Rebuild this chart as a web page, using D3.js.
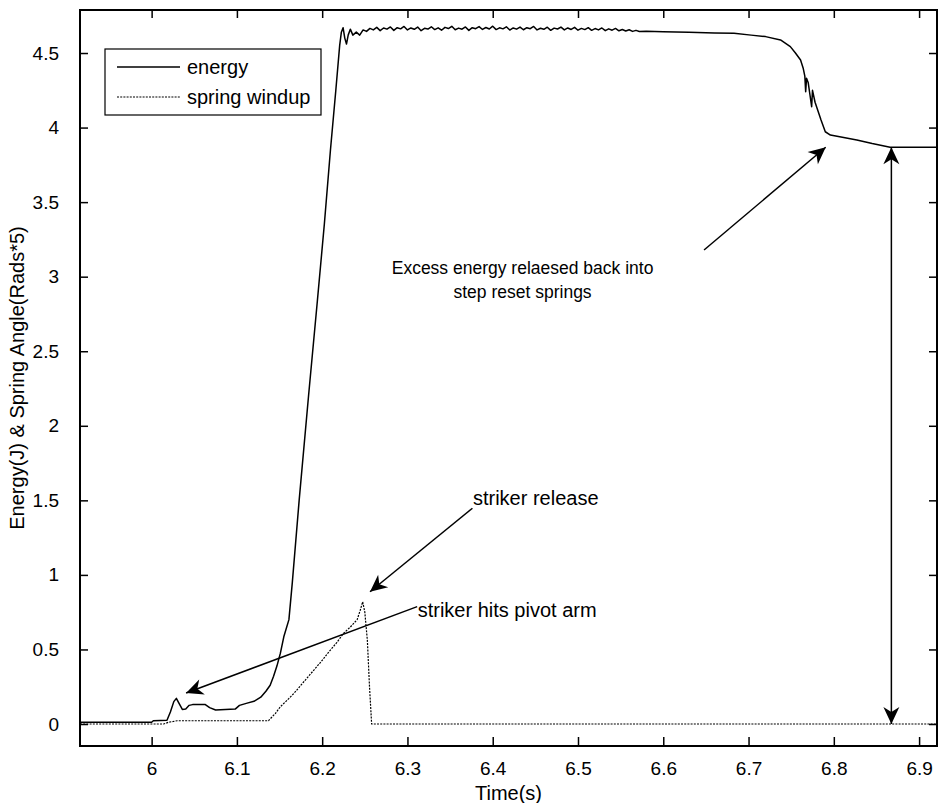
<!DOCTYPE html>
<html>
<head>
<meta charset="utf-8">
<script src="https://cdn.jsdelivr.net/npm/d3@7"></script>
<style>
  html, body { margin: 0; padding: 0; background: #fff; }
  svg text { font-family: "Liberation Sans", Arial, sans-serif; fill: #000; }
</style>
</head>
<body>
<svg id="chart" width="938" height="803"></svg>
<script>
// ---------- data ----------
const xTicks = [6, 6.1, 6.2, 6.3, 6.4, 6.5, 6.6, 6.7, 6.8, 6.9];
const xTickLabels = ["6", "6.1", "6.2", "6.3", "6.4", "6.5", "6.6", "6.7", "6.8", "6.9"];
const yTicks = [0, 0.5, 1, 1.5, 2, 2.5, 3, 3.5, 4, 4.5];
const yTickLabels = ["0", "0.5", "1", "1.5", "2", "2.5", "3", "3.5", "4", "4.5"];
const seriesNames = ["energy", "spring windup"];

const energyPoints = [
  [5.916, 0.012], [6.000, 0.012], [6.002, 0.022], [6.018, 0.025], [6.022, 0.08],
  [6.026, 0.15], [6.029, 0.172], [6.032, 0.14], [6.036, 0.098], [6.040, 0.10],
  [6.044, 0.125], [6.048, 0.13], [6.063, 0.13], [6.068, 0.11], [6.075, 0.094],
  [6.098, 0.10], [6.103, 0.125], [6.112, 0.14], [6.120, 0.152], [6.128, 0.18],
  [6.134, 0.22], [6.139, 0.26], [6.143, 0.32], [6.147, 0.39], [6.151, 0.475],
  [6.155, 0.585], [6.161, 0.70], [6.165, 0.95], [6.173, 1.50], [6.184, 2.20],
  [6.1944, 2.84], [6.2025, 3.35], [6.2097, 3.85], [6.2160, 4.25], [6.2205, 4.55],
  [6.2225, 4.64], [6.2245, 4.67], [6.2265, 4.60], [6.2285, 4.56], [6.2305, 4.62],
  [6.2330, 4.66], [6.2360, 4.62], [6.2400, 4.64], [6.2440, 4.62], [6.2480, 4.655],
  [6.2520, 4.645], [6.2560, 4.665],
  [6.260, 4.655], [6.264, 4.672], [6.268, 4.650], [6.272, 4.668], [6.276, 4.660],
  [6.280, 4.675], [6.284, 4.652], [6.288, 4.670], [6.292, 4.662], [6.296, 4.678],
  [6.300, 4.655], [6.304, 4.668], [6.308, 4.659], [6.312, 4.674], [6.316, 4.650],
  [6.320, 4.666], [6.324, 4.661], [6.328, 4.676], [6.332, 4.657], [6.336, 4.669],
  [6.340, 4.653], [6.344, 4.672], [6.348, 4.664], [6.352, 4.679], [6.356, 4.656],
  [6.360, 4.667], [6.364, 4.660], [6.368, 4.675], [6.372, 4.652], [6.376, 4.670],
  [6.380, 4.663], [6.384, 4.677], [6.388, 4.658], [6.392, 4.671], [6.396, 4.661],
  [6.400, 4.680], [6.404, 4.657], [6.408, 4.669], [6.412, 4.662], [6.416, 4.676],
  [6.420, 4.654], [6.424, 4.668], [6.428, 4.660], [6.432, 4.674], [6.436, 4.656],
  [6.440, 4.670], [6.444, 4.663], [6.448, 4.678], [6.452, 4.655], [6.456, 4.666],
  [6.460, 4.659], [6.464, 4.673], [6.468, 4.652], [6.472, 4.667], [6.476, 4.661],
  [6.480, 4.674], [6.484, 4.655], [6.488, 4.668], [6.492, 4.658], [6.496, 4.672],
  [6.500, 4.653], [6.504, 4.665], [6.508, 4.657], [6.512, 4.670], [6.516, 4.652],
  [6.520, 4.664], [6.524, 4.655], [6.528, 4.668], [6.532, 4.650], [6.536, 4.662],
  [6.540, 4.653], [6.544, 4.665], [6.548, 4.649], [6.552, 4.658], [6.556, 4.648],
  [6.560, 4.656], [6.564, 4.645], [6.568, 4.652], [6.572, 4.644], [6.580, 4.646],
  [6.600, 4.642], [6.630, 4.639], [6.660, 4.635], [6.683, 4.632], [6.703, 4.620],
  [6.720, 4.610], [6.7375, 4.588], [6.749, 4.543], [6.755, 4.50], [6.761, 4.453],
  [6.764, 4.40], [6.766, 4.345], [6.767, 4.241], [6.768, 4.33], [6.770, 4.30],
  [6.772, 4.22], [6.774, 4.14], [6.775, 4.25], [6.778, 4.17], [6.785, 4.051],
  [6.790, 3.972], [6.796, 3.950], [6.810, 3.935], [6.827, 3.917], [6.845, 3.893],
  [6.866, 3.868], [6.921, 3.868]
];

const springPoints = [
  [5.916, 0.0], [6.014, 0.0], [6.020, 0.012], [6.030, 0.022], [6.137, 0.022],
  [6.145, 0.07], [6.151, 0.116], [6.159, 0.16], [6.167, 0.206], [6.178, 0.28],
  [6.190, 0.36], [6.199, 0.42], [6.208, 0.485], [6.217, 0.545], [6.225, 0.608],
  [6.233, 0.65], [6.241, 0.70], [6.2445, 0.76], [6.2475, 0.82], [6.250, 0.75],
  [6.253, 0.56], [6.2555, 0.25], [6.258, 0.0], [6.921, 0.0]
];

// annotations: [tailT, tailV, tipT, tipV]
const arrowStrikerHits = [6.3114, 0.787, 6.0404, 0.208];
const arrowStrikerRelease = [6.3762, 1.447, 6.2561, 0.887];
const arrowExcess = [6.6478, 3.179, 6.7905, 3.868];
const doubleArrow = [6.8675, 3.868, 6.8675, 0.0];
const labelStrikerHits = ["striker hits pivot arm", 6.312, 0.765];
const labelStrikerRelease = ["striker release", 6.3768, 1.516];
const labelExcess = [["Excess energy relaesed back into", "step reset springs"], 6.435, 3.058];

// ---------- layout ----------
const W = 938, H = 803;
const plot = { left: 80, right: 937, top: 10, bottom: 746 };
const svg = d3.select("#chart");

const x = d3.scaleLinear().domain([5.916, 6.921]).range([plot.left, plot.right]);
const y = d3.scaleLinear().domain([-0.1475, 4.7885]).range([plot.bottom, plot.top]);

svg.append("rect").attr("width", W).attr("height", H).attr("fill", "#fff");

const defs = svg.append("defs");
defs.append("clipPath").attr("id", "clip")
  .append("rect").attr("x", plot.left).attr("y", plot.top)
  .attr("width", plot.right - plot.left).attr("height", plot.bottom - plot.top);

// lines
const line = d3.line().x(d => x(d[0])).y(d => y(d[1]));
const g = svg.append("g").attr("clip-path", "url(#clip)");
g.append("path").datum(springPoints).attr("d", line)
  .attr("fill", "none").attr("stroke", "#000").attr("stroke-width", 1.2)
  .attr("stroke-dasharray", "2,1.2");
g.append("path").datum(energyPoints).attr("d", line)
  .attr("fill", "none").attr("stroke", "#000").attr("stroke-width", 1.5)
  .attr("stroke-linejoin", "round");

// axes (ticks inside, mirrored)
const fontTick = 19;
function styleAxis(sel) {
  sel.select(".domain").remove();
  sel.selectAll(".tick line").attr("stroke", "#000").attr("stroke-width", 1.5);
  sel.selectAll(".tick text").attr("font-size", fontTick)
    .attr("font-family", '"Liberation Sans", Arial, sans-serif');
}
const xAxis = d3.axisBottom(x).tickValues(xTicks)
  .tickFormat((d, i) => xTickLabels[i]).tickSizeInner(-9).tickSizeOuter(0).tickPadding(16);
svg.append("g").attr("transform", `translate(0,${plot.bottom})`).call(xAxis).call(styleAxis);
const xAxisTop = d3.axisTop(x).tickValues(xTicks).tickFormat("").tickSizeInner(-8).tickSizeOuter(0);
svg.append("g").attr("transform", `translate(0,${plot.top})`).call(xAxisTop).call(styleAxis);

const yAxis = d3.axisLeft(y).tickValues(yTicks)
  .tickFormat((d, i) => yTickLabels[i]).tickSizeInner(-8).tickSizeOuter(0).tickPadding(21);
svg.append("g").attr("transform", `translate(${plot.left},0)`).call(yAxis).call(styleAxis);
const yAxisRight = d3.axisRight(y).tickValues(yTicks).tickFormat("").tickSizeInner(-8).tickSizeOuter(0);
svg.append("g").attr("transform", `translate(${plot.right},0)`).call(yAxisRight).call(styleAxis);

// frame
svg.append("rect").attr("x", plot.left).attr("y", plot.top)
  .attr("width", plot.right - plot.left).attr("height", plot.bottom - plot.top)
  .attr("fill", "none").attr("stroke", "#000").attr("stroke-width", 2);

// axis labels
svg.append("text").attr("x", (plot.left + plot.right) / 2).attr("y", 800)
  .attr("text-anchor", "middle").attr("font-size", 20).text("Time(s)");
svg.append("text").attr("transform", `translate(24,${(plot.top + plot.bottom) / 2}) rotate(-90)`)
  .attr("text-anchor", "middle").attr("font-size", 20).text("Energy(J) & Spring Angle(Rads*5)");

// legend
const lg = svg.append("g");
lg.append("rect").attr("x", 105).attr("y", 49).attr("width", 216).attr("height", 66)
  .attr("fill", "#fff").attr("stroke", "#000").attr("stroke-width", 1.2);
seriesNames.forEach((name, i) => {
  const yy = 67 + i * 30;
  lg.append("line").attr("x1", 117).attr("x2", 180).attr("y1", yy).attr("y2", yy)
    .attr("stroke", "#000").attr("stroke-width", i === 0 ? 1.5 : 1.2)
    .attr("stroke-dasharray", i === 0 ? null : "2,1.2");
  lg.append("text").attr("x", 187).attr("y", yy + 7).attr("font-size", 20).text(name);
});

// arrows
function headPath(tx, ty, angle) {
  const L = 17, Wd = 8, N = 5;
  const pts = [[0, 0], [-L, -Wd], [-L + N, 0], [-L, Wd]];
  const c = Math.cos(angle), s = Math.sin(angle);
  return "M" + pts.map(p => [tx + p[0] * c - p[1] * s, ty + p[0] * s + p[1] * c].join(",")).join("L") + "Z";
}
function arrow(a, both) {
  const x1 = x(a[0]), y1 = y(a[1]), x2 = x(a[2]), y2 = y(a[3]);
  svg.append("line").attr("x1", x1).attr("y1", y1).attr("x2", x2).attr("y2", y2)
    .attr("stroke", "#000").attr("stroke-width", 1.5);
  const ang = Math.atan2(y2 - y1, x2 - x1);
  svg.append("path").attr("d", headPath(x2, y2, ang)).attr("fill", "#000");
  if (both) svg.append("path").attr("d", headPath(x1, y1, ang + Math.PI)).attr("fill", "#000");
}
arrow(arrowStrikerHits, false);
arrow(arrowStrikerRelease, false);
arrow(arrowExcess, false);
arrow(doubleArrow, true);

svg.append("text").attr("x", x(labelStrikerHits[1])).attr("y", y(labelStrikerHits[2]))
  .attr("dy", "0.35em").attr("font-size", 20).text(labelStrikerHits[0]);
svg.append("text").attr("x", x(labelStrikerRelease[1])).attr("y", y(labelStrikerRelease[2]))
  .attr("dy", "0.35em").attr("font-size", 20).text(labelStrikerRelease[0]);
labelExcess[0].forEach((t, i) => {
  svg.append("text").attr("x", x(labelExcess[1])).attr("y", y(labelExcess[2]) + i * 24)
    .attr("dy", "0.35em").attr("text-anchor", "middle").attr("font-size", 17.5).text(t);
});
</script>
</body>
</html>
